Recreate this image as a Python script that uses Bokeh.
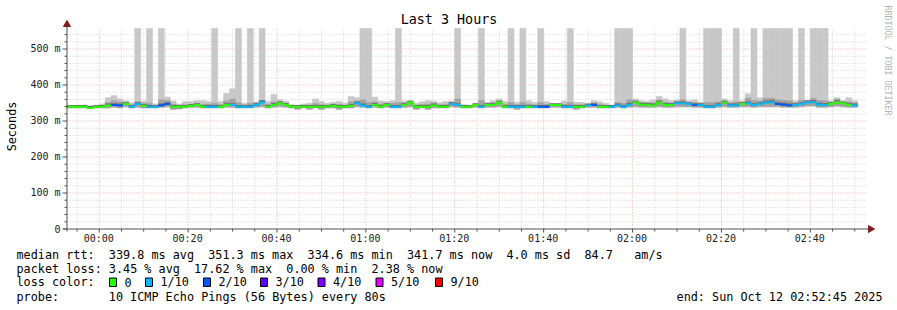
import re
import numpy as np
from bokeh.plotting import figure
from bokeh.models import Range1d, Label, ColumnDataSource
from bokeh.core.properties import value
from bokeh.embed import file_html
from bokeh.resources import INLINE

# ---------------- data ----------------
STEP = 80                 # seconds per consolidated sample
FIRST_EDGE = -474         # seconds relative to 00:00 (first bin's left edge)
T_START, T_END = -435, 10365   # 23:52:45 .. 02:52:45
Y_TOP = 555.6

median_ms = [338, 338, 338, 338, 335, 338, 338, 342, 343, 342,
             346, 338, 346, 341, 338, 338, 342, 346, 338, 338,
             338, 341, 343, 338, 338, 338, 338, 343, 343, 338,
             338, 338, 343, 351, 338, 343, 348, 343, 338, 338,
             338, 338, 338, 338, 338, 341, 338, 338, 341, 348,
             342, 338, 343, 338, 343, 338, 338, 343, 350, 338,
             338, 338, 342, 338, 338, 346, 343, 338, 338, 343,
             338, 343, 343, 350, 338, 338, 338, 338, 338, 338,
             338, 338, 343, 343, 338, 338, 338, 338, 342, 343,
             338, 338, 338, 342, 338, 344, 350, 344, 344, 342,
             350, 343, 343, 348, 348, 346, 343, 343, 338, 338,
             343, 350, 342, 342, 346, 348, 343, 346, 350, 351,
             346, 344, 342, 343, 346, 351, 351, 344, 343, 346,
             351, 348, 343, 342]

loss = [0, 0, 0, 0, 0, 0, 0, 0, 2, 2,
        0, 1, 1, 0, 1, 1, 2, 2, 0, 0,
        0, 0, 0, 0, 1, 1, 0, 0, 1, 1,
        1, 1, 1, 1, 0, 0, 0, 0, 0, 0,
        0, 0, 0, 0, 0, 0, 0, 0, 0, 1,
        1, 1, 0, 0, 0, 1, 1, 0, 0, 0,
        0, 0, 0, 0, 0, 1, 1, 0, 0, 0,
        1, 0, 0, 0, 0, 1, 1, 1, 0, 1,
        2, 2, 0, 0, 1, 1, 0, 0, 1, 2,
        0, 0, 1, 1, 1, 1, 0, 0, 0, 0,
        0, 0, 0, 1, 1, 1, 2, 1, 1, 1,
        1, 0, 1, 1, 0, 1, 1, 1, 1, 1,
        2, 2, 2, 1, 1, 1, 1, 1, 1, 0,
        0, 0, 0, 1]

smoke_hi = [340, 341, 341, 342, 341, 341, 346, 363, 369, 360,
            355, 349, 600, 354, 600, 346, 600, 365, 354, 346,
            353, 353, 355, 355, 353, 600, 353, 375, 388, 600,
            348, 600, 352, 600, 353, 372, 358, 354, 344, 342,
            346, 348, 360, 353, 348, 351, 353, 348, 367, 363,
            600, 600, 365, 354, 353, 355, 600, 354, 355, 348,
            352, 355, 354, 350, 353, 354, 600, 344, 342, 346,
            600, 350, 355, 360, 353, 600, 351, 600, 355, 350,
            600, 353, 346, 346, 354, 600, 351, 350, 346, 355,
            352, 348, 342, 600, 600, 600, 360, 355, 353, 357,
            367, 360, 355, 357, 600, 355, 357, 351, 600, 600,
            600, 360, 355, 600, 355, 374, 600, 363, 600, 600,
            600, 600, 600, 355, 600, 354, 600, 600, 600, 355,
            363, 355, 363, 355]

smoke_mid = [339, 339, 339, 340, 337, 339, 341, 350, 355, 352,
             350, 344, 352, 348, 348, 342, 358, 356, 346, 342,
             344, 345, 347, 345, 346, 348, 344, 355, 360, 350,
             344, 348, 348, 356, 345, 352, 352, 348, 341, 340,
             342, 343, 347, 344, 343, 346, 345, 343, 352, 354,
             358, 350, 352, 346, 348, 348, 350, 349, 352, 343,
             345, 346, 348, 344, 345, 350, 360, 341, 340, 344,
             356, 346, 349, 354, 345, 350, 344, 350, 346, 344,
             350, 345, 344, 344, 346, 350, 344, 344, 344, 349,
             345, 343, 340, 350, 348, 358, 354, 349, 348, 349,
             357, 351, 349, 352, 358, 350, 350, 347, 350, 350,
             352, 354, 349, 352, 350, 362, 356, 354, 362, 362,
             358, 356, 355, 349, 356, 353, 362, 356, 355, 350,
             359, 351, 352, 349]

smoke_lo = [335, 335, 335, 335, 333, 335, 335, 335, 337, 335,
            338, 335, 337, 335, 335, 335, 337, 338, 331, 332,
            335, 337, 337, 335, 335, 335, 335, 337, 337, 335,
            335, 335, 337, 338, 335, 337, 338, 337, 335, 331,
            335, 331, 335, 331, 335, 335, 331, 335, 335, 338,
            337, 335, 337, 335, 337, 335, 335, 337, 338, 331,
            335, 331, 335, 335, 335, 338, 337, 335, 335, 337,
            335, 337, 337, 338, 335, 335, 331, 335, 335, 335,
            335, 335, 337, 337, 335, 335, 331, 335, 337, 337,
            335, 335, 335, 337, 335, 337, 338, 337, 337, 337,
            338, 337, 337, 338, 338, 338, 337, 337, 335, 335,
            337, 338, 337, 337, 338, 338, 337, 338, 338, 338,
            338, 337, 337, 337, 338, 340, 340, 337, 337, 338,
            340, 338, 337, 337]

loss_labels = ["0", "1/10", "2/10", "3/10", "4/10", "5/10", "9/10"]
loss_colors = ["#26ff00", "#00b8ff", "#0059ff", "#5e00ff", "#7e00ff", "#dd00ff", "#ff0000"]

x_ticks = [0, 1200, 2400, 3600, 4800, 6000, 7200, 8400, 9600]
x_tick_labels = ["00:00", "00:20", "00:40", "01:00", "01:20", "01:40", "02:00", "02:20", "02:40"]
y_ticks = [0, 100, 200, 300, 400, 500]
y_tick_labels = ["0", "100 m", "200 m", "300 m", "400 m", "500 m"]

line_rtt = "median rtt:  339.8 ms avg  351.3 ms max  334.6 ms min  341.7 ms now  4.0 ms sd  84.7   am/s"
line_loss = "packet loss: 3.45 % avg  17.62 % max  0.00 % min  2.38 % now"
line_probe = "probe:       10 ICMP Echo Pings (56 Bytes) every 80s"
end_text = "end: Sun Oct 12 02:52:45 2025"

# ---------------- geometry ----------------
FL, FR, FT, FB = 66, 866, 28, 228   # plot area in pixels
W, H = 897, 310
SX = (T_END - T_START) / (FR - FL)   # seconds per pixel
SY = Y_TOP / (FB - FT)               # ms per pixel


def px2x(px):
    return T_START + (px - FL) * SX


def px2y(py):
    return (FB - py) * SY


HX = 0.5 * SX   # half-pixel offsets for crisp 1px lines
HY = 0.5 * SY

p = figure(width=W, height=H, x_range=Range1d(px2x(0), px2x(W)), y_range=Range1d(px2y(H), px2y(0)),
           output_backend="svg", toolbar_location=None, min_border=0,
           x_axis_location=None, y_axis_location=None)
p.min_border_left = p.min_border_right = p.min_border_top = p.min_border_bottom = 0
p.outline_line_color = None
p.background_fill_color = "white"
p.border_fill_color = "white"
p.xgrid.visible = False
p.ygrid.visible = False

AXIS = "#505050"
ARROW = "#7f1f1f"
FONT = "DejaVu Sans Mono"
MINOR = "#cfcfcf"
MAJOR = "#eca6a6"

x_minor = [t for t in range(-300, 10400, 300) if t not in x_ticks and T_START < t < T_END]
y_minor = [v for v in range(20, 556, 20) if v not in y_ticks]

# ---------------- grid ----------------
p.segment(x0=[t + HX for t in x_minor], y0=0, x1=[t + HX for t in x_minor], y1=Y_TOP,
          line_color=MINOR, line_dash="1 2", line_width=1)
p.segment(x0=T_START, y0=[v - HY for v in y_minor], x1=T_END, y1=[v - HY for v in y_minor],
          line_color=MINOR, line_dash="1 2", line_width=1)
p.segment(x0=[t + HX for t in x_ticks], y0=0, x1=[t + HX for t in x_ticks], y1=Y_TOP,
          line_color=MAJOR, line_dash="1 2", line_width=1)
p.segment(x0=T_START, y0=[v - HY for v in y_ticks[1:]], x1=T_END, y1=[v - HY for v in y_ticks[1:]],
          line_color=MAJOR, line_dash="1 2", line_width=1)

# ---------------- smoke + median ----------------
n = len(median_ms)
left = [FIRST_EDGE + STEP * k for k in range(n)]
right = [l + STEP for l in left]
med = np.array(median_ms, dtype=float)
left_c = [max(l, T_START) for l in left]

src = ColumnDataSource(dict(
    left=left_c, right=right, lo=smoke_lo, mid=smoke_mid,
    hi=list(np.minimum(np.array(smoke_hi, dtype=float), Y_TOP)),
    dlo=list(med - 2), dhi=list(med + 5), med=median_ms,
    color=[loss_colors[min(l, 6)] for l in loss]))

p.quad(left="left", right="right", bottom="lo", top="hi", source=src,
       fill_color="#c8c8c8", line_color="#c8c8c8", line_width=0.6)
p.quad(left="left", right="right", bottom="lo", top="mid", source=src,
       fill_color="#a2a2a2", line_color="#a2a2a2", line_width=0.4)
p.quad(left="left", right="right", bottom="dlo", top="dhi", source=src,
       fill_color="#6a6a6a", line_color=None)

cx, cy0, cy1, cc = [], [], [], []
for k in range(n - 1):
    if loss[k] == loss[k + 1]:
        cx.append(right[k])
        cy0.append(median_ms[k])
        cy1.append(median_ms[k + 1])
        cc.append(loss_colors[min(loss[k], 6)])
p.segment(x0=cx, y0=cy0, x1=cx, y1=cy1, line_color=cc, line_width=2)
p.segment(x0="left", y0="med", x1="right", y1="med", source=src,
          line_color="color", line_width=2)

# ---------------- axes ----------------
ax0 = T_START + HX
ay0 = 0 - HY
p.segment(x0=[ax0], y0=[px2y(231)], x1=[ax0], y1=[px2y(24)], line_color=AXIS, line_width=1)
p.segment(x0=[px2x(63)], y0=[ay0], x1=[px2x(869)], y1=[ay0], line_color=AXIS, line_width=1)
# y ticks
p.segment(x0=px2x(62), y0=[v - HY for v in y_ticks], x1=ax0, y1=[v - HY for v in y_ticks],
          line_color=AXIS, line_width=1)
p.segment(x0=px2x(64), y0=[v - HY for v in y_minor], x1=ax0, y1=[v - HY for v in y_minor],
          line_color=AXIS, line_width=1)
# x ticks
p.segment(x0=[t + HX for t in x_ticks], y0=ay0, x1=[t + HX for t in x_ticks], y1=px2y(232),
          line_color=AXIS, line_width=1)
p.segment(x0=[t + HX for t in x_minor], y0=ay0, x1=[t + HX for t in x_minor], y1=px2y(231),
          line_color=AXIS, line_width=1)
# arrow heads
p.scatter(x=[ax0], y=[px2y(24)], marker="triangle", size=7, fill_color=ARROW, line_color=ARROW)
p.scatter(x=[px2x(870)], y=[ay0], marker="triangle", size=7, angle=-np.pi / 2,
          fill_color=ARROW, line_color=ARROW)

# tick labels
p.text(x=px2x(60), y=y_ticks, text=y_tick_labels, text_font=value(FONT), text_font_size="10px",
       text_align="right", text_baseline="middle", text_color="#202020")
p.text(x=x_ticks, y=px2y(238), text=x_tick_labels, text_font=value(FONT), text_font_size="10px",
       text_align="center", text_baseline="middle", text_color="#202020")


# ---------------- texts ----------------
def add_text(px, py, text, size="11.8px", align="left", angle=0.0, color="black"):
    p.add_layout(Label(x=px2x(px), y=px2y(py), text=text, text_font=FONT,
                       text_font_size=size, text_align=align, text_baseline="middle",
                       angle=angle, text_color=color))


CW = 7.1


def add_mono_line(py, s, x0=16):
    for m in re.finditer(r"\S+(?: \S+)*", s):
        add_text(x0 + m.start() * CW, py, m.group())


add_text(448.5, 19, "Last 3 Hours", size="13.4px", align="center")
add_text(11, 126, "Seconds", size="11.8px", align="center", angle=np.pi / 2)
add_text(887, 60, "RRDTOOL / TOBI OETIKER", size="8.3px", align="center",
         angle=-np.pi / 2, color="#b4b4b4")

add_mono_line(254, line_rtt)
add_mono_line(268, line_loss)
add_mono_line(296.3, line_probe)
add_text(882, 296.3, end_text, align="right")

add_text(16, 281.7, "loss color:")
label_x = [124, 160, 218, 275, 332.5, 390.5, 450]
box_l = [px2x(lx - 15) for lx in label_x]
box_r = [px2x(lx - 8) for lx in label_x]
p.quad(left=box_l, right=box_r, top=px2y(277.5), bottom=px2y(286),
       fill_color=loss_colors, line_color="black", line_width=1)
for lx, lab in zip(label_x, loss_labels):
    add_text(lx, 281.7, lab)

open("out.html", "w").write(file_html(p, INLINE))
